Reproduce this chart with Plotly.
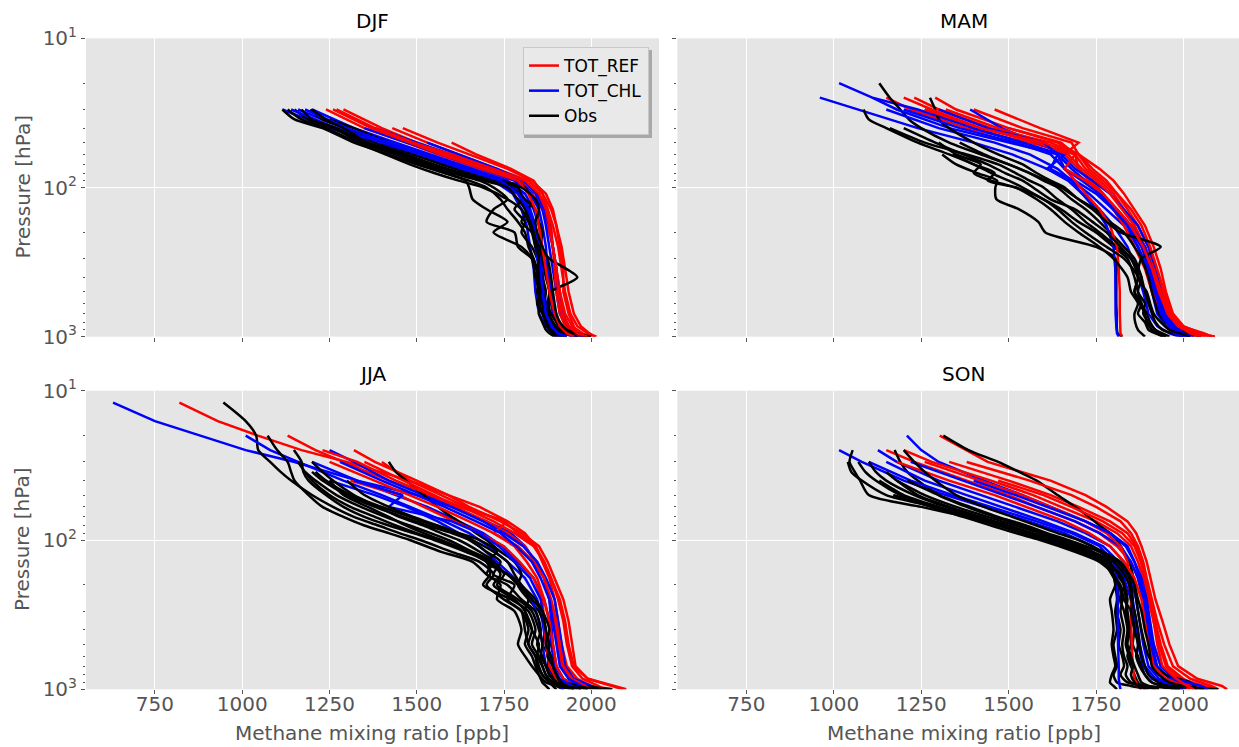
import plotly.graph_objects as go

# ---------------- data ----------------
# pressure levels [hPa]; every profile runs from its top level down to 1000 hPa,
# so a profile's values map onto the LAST len(values) levels of its grid
P_MOD = [12, 16, 20, 25, 30, 40, 50, 60, 75, 90, 110, 140, 180, 250, 350, 500, 700, 850, 950, 1000]
P_OBS = [12, 16, 20, 25, 30, 35, 40, 50, 60, 70, 80, 90, 100, 120, 140, 170, 200, 250, 300, 400,
         500, 600, 700, 800, 900, 950, 1000]

SEASONS = ["DJF", "MAM", "JJA", "SON"]
SERIES_NAMES = ["TOT_REF", "TOT_CHL", "Obs"]
X_TICKS = [750, 1000, 1250, 1500, 1750, 2000]
Y_TICKS = [10, 100, 1000]
Y_TICK_TEXT = ["10<sup>1</sup>", "10<sup>2</sup>", "10<sup>3</sup>"]
Y_MINOR = [20, 30, 40, 50, 60, 70, 80, 90, 200, 300, 400, 500, 600, 700, 800, 900]

# ---- DJF ----
DJF_REF = [
    [1240, 1350, 1470, 1560, 1680, 1780, 1830, 1860, 1875, 1890, 1900, 1910, 1925, 1945, 1975, 2000],
    [1290, 1400, 1500, 1590, 1700, 1800, 1850, 1875, 1890, 1905, 1915, 1925, 1940, 1960, 1990, 2015],
    [1430, 1530, 1620, 1730, 1820, 1860, 1885, 1900, 1915, 1925, 1935, 1950, 1970, 1995, 2010],
    [1460, 1560, 1650, 1760, 1830, 1870, 1890, 1900, 1910, 1920, 1920, 1935, 1950, 1960, 1985],
    [1600, 1670, 1770, 1835, 1860, 1875, 1885, 1890, 1895, 1900, 1910, 1925, 1945, 1960],
    [1260, 1370, 1480, 1570, 1690, 1790, 1820, 1840, 1850, 1860, 1870, 1880, 1895, 1910, 1930, 1950],
    [1380, 1490, 1580, 1700, 1800, 1845, 1865, 1880, 1890, 1900, 1910, 1920, 1935, 1955, 1975],
    [1270, 1380, 1490, 1600, 1720, 1810, 1850, 1870, 1880, 1890, 1900, 1905, 1915, 1935, 1960, 1990],
]
DJF_CHL = [
    [1115, 1250, 1380, 1490, 1620, 1720, 1775, 1800, 1815, 1825, 1835, 1840, 1850, 1870, 1890, 1905],
    [1200, 1320, 1440, 1540, 1660, 1760, 1810, 1835, 1850, 1860, 1870, 1880, 1890, 1905, 1925, 1945],
    [1160, 1290, 1410, 1520, 1650, 1750, 1800, 1825, 1840, 1850, 1860, 1865, 1875, 1890, 1910, 1925],
    [1380, 1500, 1600, 1710, 1795, 1840, 1860, 1870, 1880, 1890, 1900, 1910, 1930, 1955, 1980],
    [1350, 1470, 1570, 1690, 1780, 1825, 1850, 1860, 1870, 1875, 1885, 1895, 1915, 1940, 1960],
    [1180, 1300, 1420, 1530, 1640, 1730, 1790, 1815, 1830, 1840, 1850, 1855, 1865, 1880, 1900, 1915],
    [1530, 1620, 1730, 1805, 1845, 1865, 1880, 1890, 1900, 1905, 1915, 1935, 1960, 1975],
    [1140, 1270, 1400, 1510, 1630, 1740, 1790, 1820, 1835, 1845, 1855, 1860, 1870, 1885, 1905, 1930],
]
DJF_OBS = [
    [1115, 1150, 1230, 1320, 1420, 1500, 1580, 1640, 1650, 1660, 1700, 1760, 1720, 1800, 1830, 1840,
     1850, 1845, 1860, 1870, 1880, 1895, 1910],
    [1150, 1190, 1260, 1340, 1440, 1520, 1600, 1680, 1720, 1760, 1720, 1700, 1780, 1790, 1830, 1850,
     1860, 1850, 1865, 1880, 1890, 1910, 1930],
    [1195, 1230, 1300, 1380, 1470, 1550, 1630, 1720, 1790, 1800, 1780, 1810, 1800, 1830, 1845, 1860,
     1870, 1865, 1875, 1890, 1900, 1925, 1960],
    [1250, 1320, 1420, 1510, 1590, 1660, 1740, 1810, 1830, 1820, 1800, 1830, 1850, 1860, 1870, 1880,
     1875, 1885, 1900, 1920, 1950, 1990],
    [1270, 1360, 1460, 1540, 1620, 1700, 1770, 1810, 1840, 1850, 1860, 1855, 1880, 1960, 1885, 1880,
     1880, 1890, 1910, 1940, 1970],
    [1130, 1170, 1240, 1330, 1410, 1480, 1550, 1620, 1690, 1760, 1800, 1820, 1830, 1840, 1850, 1855,
     1850, 1860, 1865, 1875, 1885, 1900, 1920],
    [1400, 1490, 1570, 1650, 1730, 1800, 1840, 1850, 1840, 1845, 1860, 1875, 1885, 1890, 1895, 1900,
     1910, 1930, 1960, 2000],
    [1200, 1240, 1290, 1360, 1450, 1530, 1610, 1690, 1760, 1790, 1810, 1825, 1835, 1845, 1850, 1845,
     1855, 1850, 1860, 1870, 1880, 1890, 1900],
    [1170, 1200, 1270, 1350, 1440, 1510, 1580, 1650, 1700, 1740, 1760, 1790, 1810, 1820, 1835, 1850,
     1845, 1855, 1850, 1860, 1870, 1880, 1895],
]

# ---- MAM ----
MAM_REF = [
    [1150, 1220, 1380, 1560, 1690, 1700, 1730, 1770, 1810, 1850, 1880, 1905, 1930, 1950, 1980, 2040, 2090],
    [1230, 1300, 1450, 1620, 1700, 1740, 1780, 1810, 1840, 1870, 1900, 1920, 1940, 1960, 1990, 2030, 2060],
    [1290, 1350, 1500, 1650, 1690, 1720, 1760, 1800, 1830, 1860, 1890, 1910, 1925, 1945, 1975, 2010, 2040],
    [1400, 1540, 1680, 1700, 1760, 1800, 1830, 1860, 1890, 1915, 1935, 1950, 1970, 2000, 2050, 2090],
    [1460, 1590, 1700, 1660, 1700, 1740, 1770, 1800, 1830, 1860, 1890, 1910, 1935, 1960, 1990, 2010],
    [1320, 1470, 1600, 1640, 1660, 1690, 1720, 1760, 1790, 1810, 1815, 1818, 1818, 1820, 1820, 1825],
    [1260, 1420, 1580, 1670, 1710, 1750, 1790, 1825, 1860, 1890, 1915, 1935, 1955, 1985, 2020, 2050],
    [1500, 1640, 1700, 1730, 1770, 1810, 1850, 1880, 1905, 1925, 1945, 1965, 1995, 2060, 2080],
    [1200, 1280, 1420, 1600, 1690, 1660, 1720, 1770, 1810, 1850, 1885, 1910, 1930, 1955, 1985, 2040, 2070],
]
MAM_CHL = [
    [960, 1070, 1240, 1400, 1510, 1610, 1670, 1710, 1760, 1800, 1840, 1865, 1885, 1900, 1925, 1960, 1990],
    [1015, 1110, 1240, 1400, 1540, 1640, 1680, 1720, 1760, 1800, 1840, 1870, 1895, 1910, 1925, 1950, 1990, 2020],
    [1110, 1180, 1330, 1500, 1640, 1620, 1680, 1730, 1780, 1830, 1870, 1900, 1915, 1930, 1950, 1975, 2000],
    [1150, 1300, 1460, 1560, 1640, 1680, 1710, 1750, 1780, 1800, 1805, 1805, 1806, 1808, 1810, 1815],
    [1390, 1480, 1580, 1660, 1610, 1690, 1750, 1800, 1850, 1890, 1915, 1930, 1945, 1970, 2010, 2030],
    [1260, 1400, 1540, 1650, 1690, 1740, 1790, 1830, 1870, 1900, 1920, 1935, 1950, 1975, 2000, 2020],
    [1200, 1360, 1520, 1620, 1660, 1720, 1760, 1800, 1840, 1880, 1905, 1920, 1935, 1960, 1985, 2005],
    [1300, 1440, 1600, 1640, 1660, 1710, 1760, 1810, 1850, 1890, 1910, 1925, 1940, 1965, 1990, 2010],
]
MAM_OBS = [
    [1310, 1350, 1410, 1467, 1462, 1465, 1530, 1585, 1605, 1750, 1806, 1808, 1808, 1808, 1809, 1809,
     1810, 1812, 1825],
    [1130, 1160, 1190, 1215, 1250, 1330, 1420, 1500, 1560, 1600, 1640, 1680, 1720, 1760, 1790, 1830,
     1860, 1880, 1890, 1900, 1910, 1920, 1940, 1970, 2000],
    [1085, 1100, 1150, 1240, 1330, 1400, 1450, 1500, 1540, 1600, 1650, 1700, 1750, 1800, 1840, 1860,
     1870, 1880, 1895, 1905, 1920, 1940, 1960],
    [1160, 1260, 1380, 1470, 1520, 1560, 1600, 1640, 1680, 1720, 1760, 1810, 1850, 1880, 1870, 1890,
     1885, 1900, 1920, 1935, 1950],
    [1275, 1290, 1300, 1330, 1400, 1470, 1540, 1580, 1620, 1660, 1700, 1750, 1790, 1830, 1860, 1880,
     1900, 1910, 1920, 1930, 1950, 1980, 2020, 2050],
    [1340, 1400, 1460, 1440, 1520, 1580, 1620, 1660, 1700, 1760, 1800, 1840, 1850, 1870, 1860, 1862,
     1870, 1880, 1890],
    [1200, 1290, 1370, 1440, 1490, 1540, 1570, 1620, 1690, 1740, 1780, 1820, 1850, 1870, 1860, 1875,
     1890, 1895, 1910, 1925, 1940],
    [1360, 1430, 1500, 1560, 1610, 1650, 1700, 1740, 1780, 1820, 1935, 1880, 1870, 1895, 1905, 1915,
     1935, 1960, 1990, 2020],
    [1300, 1350, 1420, 1400, 1450, 1520, 1600, 1640, 1680, 1720, 1780, 1830, 1870, 1860, 1880, 1870,
     1890, 1900, 1920, 1950],
]

# ---- JJA ----
JJA_REF = [
    [820, 930, 1045, 1170, 1300, 1480, 1590, 1680, 1760, 1810, 1840, 1860, 1880, 1895, 1905, 1915, 1930,
     1960, 2000, 2030],
    [1130, 1210, 1290, 1420, 1530, 1610, 1700, 1760, 1810, 1840, 1865, 1880, 1895, 1905, 1915, 1940, 2000, 2060],
    [1320, 1380, 1500, 1590, 1650, 1740, 1800, 1850, 1875, 1895, 1920, 1935, 1945, 1955, 1990, 2070, 2100],
    [1400, 1480, 1570, 1640, 1750, 1790, 1840, 1865, 1885, 1905, 1920, 1930, 1945, 1975, 2020, 2040],
    [1250, 1380, 1480, 1560, 1650, 1720, 1780, 1815, 1845, 1865, 1880, 1890, 1900, 1920, 1950, 1970],
    [1350, 1460, 1550, 1620, 1760, 1720, 1790, 1835, 1865, 1885, 1900, 1910, 1920, 1945, 1980, 2000],
    [1310, 1450, 1520, 1610, 1680, 1750, 1795, 1835, 1860, 1865, 1870, 1880, 1900, 1930, 1950],
    [1230, 1330, 1440, 1540, 1630, 1720, 1780, 1835, 1865, 1885, 1910, 1925, 1935, 1950, 1990, 2060, 2090],
]
JJA_CHL = [
    [630, 750, 880, 1010, 1150, 1330, 1500, 1600, 1700, 1770, 1810, 1840, 1865, 1880, 1885, 1890, 1900,
     1920, 1950, 1970],
    [1010, 1080, 1160, 1290, 1400, 1480, 1580, 1650, 1705, 1760, 1810, 1845, 1860, 1870, 1880, 1900, 1930, 1950],
    [1250, 1320, 1420, 1520, 1600, 1690, 1750, 1805, 1845, 1870, 1895, 1905, 1915, 1925, 1950, 2000, 2030],
    [1200, 1330, 1440, 1530, 1620, 1690, 1745, 1790, 1835, 1865, 1880, 1885, 1895, 1920, 1960, 1990],
    [1250, 1380, 1470, 1560, 1620, 1680, 1730, 1780, 1830, 1850, 1860, 1870, 1890, 1910, 1920],
    [1280, 1400, 1500, 1580, 1670, 1740, 1785, 1830, 1855, 1880, 1890, 1900, 1910, 1935, 1970, 1990],
    [1320, 1460, 1420, 1600, 1680, 1735, 1780, 1825, 1855, 1865, 1875, 1890, 1910, 1945, 1970],
]
JJA_OBS = [
    [946, 1010, 1040, 1046, 1080, 1110, 1140, 1200, 1260, 1320, 1390, 1450, 1510, 1600, 1680, 1720,
     1700, 1750, 1800, 1820, 1810, 1830, 1840, 1850, 1860, 1870, 1880],
    [1073, 1100, 1130, 1140, 1150, 1190, 1230, 1290, 1350, 1420, 1480, 1570, 1660, 1700, 1740, 1730,
     1780, 1800, 1790, 1810, 1830, 1850, 1870, 1900, 1920],
    [1148, 1170, 1175, 1190, 1240, 1290, 1350, 1420, 1490, 1550, 1640, 1700, 1710, 1690, 1770, 1820,
     1840, 1830, 1850, 1860, 1870, 1890, 1930, 1960],
    [1420, 1440, 1470, 1520, 1560, 1600, 1640, 1670, 1700, 1740, 1780, 1800, 1790, 1820, 1850, 1870,
     1860, 1880, 1875, 1890, 1900, 1920, 1940],
    [1180, 1210, 1270, 1340, 1410, 1480, 1540, 1590, 1660, 1720, 1750, 1730, 1790, 1830, 1850, 1860,
     1855, 1870, 1880, 1920, 1980, 2060],
    [1200, 1230, 1260, 1320, 1390, 1450, 1520, 1570, 1620, 1680, 1720, 1700, 1760, 1800, 1840, 1855,
     1845, 1860, 1870, 1880, 1900, 1950, 2020],
    [1250, 1290, 1360, 1420, 1470, 1520, 1570, 1650, 1700, 1760, 1790, 1830, 1860, 1880, 1870, 1885,
     1890, 1900, 1910, 1920, 1925],
    [1200, 1230, 1300, 1380, 1460, 1530, 1600, 1650, 1700, 1740, 1720, 1780, 1760, 1800, 1810, 1820,
     1840, 1850, 1860, 1880, 1890, 1900],
    [1160, 1180, 1200, 1250, 1310, 1380, 1440, 1500, 1560, 1650, 1710, 1740, 1720, 1780, 1810, 1830,
     1820, 1840, 1845, 1860, 1880, 1910, 1950],
    [1300, 1350, 1420, 1490, 1560, 1620, 1660, 1720, 1760, 1780, 1800, 1840, 1860, 1870, 1880, 1875,
     1890, 1900, 1915, 1930, 1950],
    [1210, 1240, 1310, 1400, 1480, 1550, 1620, 1680, 1730, 1700, 1760, 1800, 1820, 1810, 1830, 1850,
     1845, 1860, 1870, 1890, 1920, 1990],
]

# ---- SON ----
SON_REF = [
    [1303, 1380, 1440, 1620, 1720, 1780, 1840, 1865, 1880, 1895, 1905, 1920, 1940, 1960, 1985, 2040, 2110, 2125],
    [1150, 1230, 1380, 1500, 1580, 1690, 1760, 1810, 1850, 1870, 1885, 1900, 1915, 1935, 1970, 2030, 2060],
    [1200, 1280, 1450, 1570, 1650, 1750, 1810, 1850, 1870, 1885, 1900, 1915, 1930, 1950, 1990, 2060, 2090],
    [1330, 1500, 1620, 1700, 1790, 1840, 1865, 1880, 1890, 1905, 1920, 1935, 1955, 2000, 2040, 2050],
    [1380, 1560, 1680, 1750, 1820, 1850, 1870, 1885, 1895, 1910, 1925, 1945, 1970, 2020, 2080, 2100],
    [1260, 1420, 1540, 1620, 1720, 1780, 1820, 1840, 1845, 1850, 1850, 1852, 1855, 1860, 1870, 1880],
    [1180, 1330, 1460, 1550, 1660, 1730, 1790, 1830, 1860, 1880, 1890, 1900, 1915, 1950, 2000, 2020],
    [1470, 1600, 1680, 1770, 1825, 1860, 1878, 1890, 1905, 1915, 1925, 1940, 1980, 2010, 2030],
]
SON_CHL = [
    [1015, 1080, 1200, 1320, 1430, 1560, 1660, 1740, 1800, 1830, 1850, 1860, 1870, 1885, 1910, 1950, 1980],
    [1209, 1250, 1300, 1430, 1540, 1620, 1720, 1790, 1840, 1860, 1875, 1890, 1900, 1910, 1925, 1960, 2010, 2040],
    [1126, 1180, 1300, 1420, 1520, 1640, 1720, 1790, 1830, 1850, 1865, 1875, 1885, 1900, 1930, 1975, 2000],
    [1150, 1260, 1380, 1480, 1600, 1690, 1770, 1815, 1840, 1855, 1865, 1875, 1890, 1920, 1960, 1990],
    [1220, 1370, 1490, 1580, 1690, 1760, 1820, 1850, 1870, 1885, 1895, 1905, 1920, 1945, 1990, 2010],
    [1100, 1220, 1340, 1450, 1580, 1680, 1760, 1800, 1810, 1812, 1812, 1813, 1815, 1815, 1818, 1820],
    [1400, 1520, 1610, 1720, 1790, 1835, 1860, 1880, 1895, 1905, 1915, 1935, 1975, 2050, 2070],
]
SON_OBS = [
    [1054, 1045, 1060, 1075, 1100, 1250, 1380, 1480, 1560, 1625, 1735, 1790, 1800, 1805, 1810, 1805,
     1810, 1800, 1805, 1810, 1800, 1810, 1850, 1900],
    [1040, 1050, 1080, 1150, 1290, 1400, 1480, 1550, 1610, 1710, 1770, 1795, 1810, 1815, 1810, 1820,
     1815, 1825, 1830, 1820, 1840, 1900, 2000],
    [1174, 1190, 1210, 1240, 1300, 1380, 1460, 1540, 1600, 1660, 1740, 1790, 1810, 1830, 1840, 1835,
     1845, 1850, 1840, 1850, 1860, 1870, 1880, 1890],
    [1313, 1385, 1470, 1530, 1580, 1640, 1690, 1730, 1760, 1790, 1810, 1830, 1845, 1855, 1860, 1865,
     1870, 1880, 1890, 1900, 1920, 1950, 2020, 2030, 2040],
    [1130, 1200, 1300, 1390, 1470, 1540, 1610, 1700, 1770, 1800, 1820, 1830, 1850, 1860, 1855, 1870,
     1880, 1890, 1910, 1960, 2100],
    [1100, 1120, 1150, 1230, 1320, 1410, 1490, 1560, 1630, 1720, 1780, 1820, 1830, 1820, 1830, 1840,
     1835, 1845, 1855, 1850, 1860, 1870, 1880],
    [1200, 1230, 1260, 1290, 1350, 1430, 1510, 1580, 1640, 1700, 1770, 1820, 1845, 1860, 1870, 1880,
     1890, 1900, 1905, 1910, 1930, 1960, 2000, 2060],
    [1170, 1280, 1400, 1490, 1560, 1625, 1720, 1780, 1800, 1805, 1790, 1795, 1800, 1795, 1800, 1805,
     1795, 1790, 1800, 1810],
    [1180, 1260, 1350, 1440, 1520, 1590, 1650, 1740, 1800, 1830, 1845, 1850, 1860, 1870, 1875, 1880,
     1890, 1900, 1930, 1950, 1970],
    [1070, 1090, 1120, 1190, 1280, 1370, 1450, 1520, 1590, 1690, 1760, 1800, 1815, 1825, 1820, 1830,
     1825, 1830, 1840, 1835, 1850, 1880, 1920],
    [1210, 1300, 1390, 1470, 1550, 1610, 1670, 1760, 1810, 1840, 1850, 1855, 1850, 1860, 1870, 1865,
     1875, 1890, 1910, 1940, 1990],
    [1150, 1180, 1240, 1330, 1420, 1500, 1570, 1640, 1720, 1780, 1815, 1830, 1835, 1840, 1845, 1840,
     1850, 1860, 1870, 1880, 1900, 1930],
]

# ---------------- layout constants (pixels of the 1239x747 canvas) ----------------
W, H = 1239, 747
PANEL_BOX = {  # x0, x1, y_top, y_bottom
    "DJF": (86, 659, 38.3, 336.7),
    "MAM": (677.4, 1239, 38.3, 336.7),
    "JJA": (86, 659, 390.7, 689.3),
    "SON": (677.4, 1239, 390.7, 689.3),
}
X_RANGE = {"DJF": [552.5, 2194], "MAM": [552.5, 2159], "JJA": [552.5, 2194], "SON": [552.5, 2159]}
COLORS = {"TOT_REF": "#FF0000", "TOT_CHL": "#0000FF", "Obs": "#000000"}
FONT = "DejaVu Sans"
GRAY = "#555555"
LEGEND_BOX = (521, 649, 47, 135)  # left, right, top, bottom (for the drop shadow)


def fx(px):
    return px / W


def fy(py):
    return 1 - py / H


data = {
    "DJF": (DJF_REF, DJF_CHL, DJF_OBS),
    "MAM": (MAM_REF, MAM_CHL, MAM_OBS),
    "JJA": (JJA_REF, JJA_CHL, JJA_OBS),
    "SON": (SON_REF, SON_CHL, SON_OBS),
}

fig = go.Figure()
layout = dict(
    width=W, height=H,
    margin=dict(l=0, r=0, t=0, b=0),
    paper_bgcolor="white",
    plot_bgcolor="#E5E5E5",
    font=dict(family=FONT, color=GRAY, size=20),
    showlegend=True,
    legend=dict(
        x=fx(LEGEND_BOX[1]), y=fy(LEGEND_BOX[2]), xanchor="right", yanchor="top",
        bgcolor="#E9E9E9", bordercolor="#C8C8C8", borderwidth=1,
        font=dict(family=FONT, size=17, color="#000000"),
        tracegroupgap=0,
    ),
    annotations=[],
    shapes=[dict(
        type="rect", xref="paper", yref="paper", layer="above",
        x0=fx(LEGEND_BOX[0] + 3), x1=fx(LEGEND_BOX[1] + 3),
        y0=fy(LEGEND_BOX[3] + 3), y1=fy(LEGEND_BOX[2] + 3),
        fillcolor="#A8A8A8", line=dict(width=0),
    )],
)

for k, season in enumerate(SEASONS, start=1):
    ref, chl, obs = data[season]
    sfx = "" if k == 1 else str(k)
    groups = ((ref, P_MOD, "TOT_REF", "linear"), (chl, P_MOD, "TOT_CHL", "linear"), (obs, P_OBS, "Obs", "spline"))
    n = max(len(ref), len(chl), len(obs))
    for i in range(n):
        for series, grid, label, shape in groups:
            if i >= len(series):
                continue
            vals = series[i]
            line = dict(color=COLORS[label], width=2.5, shape=shape)
            if shape == "spline":
                line["smoothing"] = 0.7
            fig.add_trace(go.Scatter(
                x=vals, y=grid[-len(vals):], mode="lines", line=line,
                name=label, legendgroup=label,
                showlegend=(k == 1 and i == 0),
                xaxis="x" + sfx, yaxis="y" + sfx, hoverinfo="skip",
            ))

    x0, x1, yt, yb = PANEL_BOX[season]
    left = k in (1, 3)
    bottom = k in (3, 4)
    layout["xaxis" + sfx] = dict(
        domain=[fx(x0), min(1.0, fx(x1))], range=X_RANGE[season], anchor="y" + sfx,
        tickmode="array", tickvals=X_TICKS, showticklabels=bottom,
        ticks="outside", ticklen=4, tickwidth=1, tickcolor=GRAY,
        ticklabelstandoff=-7,
        tickfont=dict(size=20, color=GRAY, family=FONT),
        showgrid=True, gridcolor="white", gridwidth=1.2,
        zeroline=False, showline=False, automargin=False,
    )
    layout["yaxis" + sfx] = dict(
        domain=[fy(yb), fy(yt)], type="log", range=[3, 1], anchor="x" + sfx,
        tickmode="array", tickvals=Y_TICKS, ticktext=Y_TICK_TEXT, showticklabels=left,
        ticks="outside", ticklen=4, tickwidth=1, tickcolor=GRAY,
        tickfont=dict(size=20, color=GRAY, family=FONT),
        showgrid=True, gridcolor="white", gridwidth=1.2,
        zeroline=False, showline=False, automargin=False,
        minor=dict(tickvals=Y_MINOR, ticks="outside", ticklen=2, tickwidth=1,
                   tickcolor=GRAY, showgrid=False),
    )
    # panel title
    cx = (x0 + (x1 if k in (1, 3) else 1250)) / 2
    layout["annotations"].append(dict(
        text=season, x=fx(cx), y=fy(yt - 17), xref="paper", yref="paper",
        showarrow=False, xanchor="center", yanchor="middle",
        font=dict(family=FONT, size=20, color="#000000"),
    ))
    if left:
        layout["annotations"].append(dict(
            text="Pressure [hPa]", x=fx(22), y=fy((yt + yb) / 2), xref="paper", yref="paper",
            showarrow=False, xanchor="center", yanchor="middle", textangle=-90,
            font=dict(family=FONT, size=20, color=GRAY),
        ))
    if bottom:
        layout["annotations"].append(dict(
            text="Methane mixing ratio [ppb]", x=fx(cx), y=fy(733), xref="paper", yref="paper",
            showarrow=False, xanchor="center", yanchor="middle",
            font=dict(family=FONT, size=20, color=GRAY),
        ))

fig.update_layout(**layout)
fig.write_html("out.html", config={"displayModeBar": False},
               post_script="document.body.style.margin='0';")
